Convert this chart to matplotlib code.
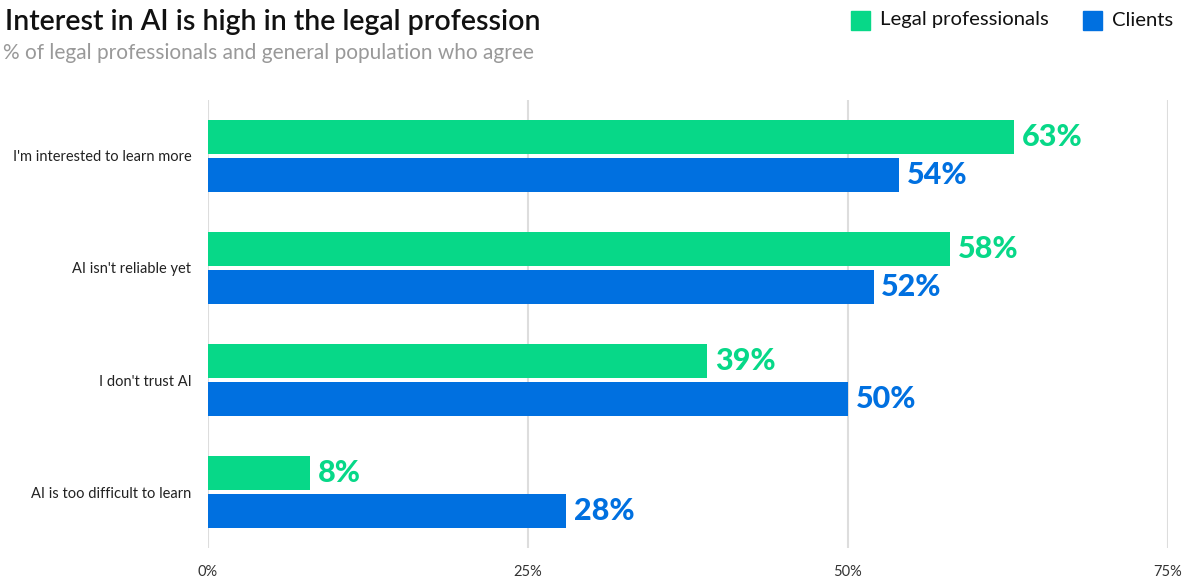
import matplotlib
matplotlib.use("Agg")
import matplotlib.pyplot as plt
import numpy as np
from matplotlib.patches import Rectangle

categories = ["I'm interested to learn more", "AI isn't reliable yet", "I don't trust AI", "AI is too difficult to learn"]
legal = [63, 58, 39, 8]
clients = [54, 52, 50, 28]
series_names = ["Legal professionals", "Clients"]
xticks = [0, 25, 50, 75]
xtick_labels = ["0%", "25%", "50%", "75%"]

GREEN = "#07D888"
BLUE = "#0070E0"
FONT = ["Lato", "DejaVu Sans"]
plt.rcParams['font.family'] = FONT

W, H = 1188, 579
fig = plt.figure(figsize=(W / 100, H / 100), dpi=100)
ax = fig.add_axes([208 / W, 31 / H, (1168 - 208) / W, (548 - 100) / H])

y = np.arange(len(categories))
bh = 0.31
off = 0.17
ax.barh(y - off, legal, height=bh, color=GREEN, zorder=3)
ax.barh(y + off, clients, height=bh, color=BLUE, zorder=3)

for yi, v in zip(y, legal):
    ax.text(v + 0.6, yi - off, f"{v}%", color=GREEN, fontsize=22, fontweight="black",
            va="center", ha="left")
for yi, v in zip(y, clients):
    ax.text(v + 0.6, yi + off, f"{v}%", color=BLUE, fontsize=22, fontweight="black",
            va="center", ha="left")

ax.set_xlim(0, 75)
ax.set_ylim(len(categories) - 0.5, -0.5)
ax.set_xticks(xticks)
ax.set_xticklabels(xtick_labels, fontsize=10.5, color="#333333")
ax.set_yticks(y)
ax.set_yticklabels(categories, fontsize=10.5, color="#222222")
ax.tick_params(axis="both", length=0)
ax.tick_params(axis="x", pad=12)
ax.tick_params(axis="y", pad=12)
for s in ax.spines.values():
    s.set_visible(False)
ax.grid(axis="x", color="#dddddd", linewidth=1.5, zorder=0)
ax.set_axisbelow(True)

fig.text(5 / W, 1 - 22 / H, "Interest in AI is high in the legal profession", fontsize=20.5,
         fontweight="semibold", color="#111111", va="center", ha="left")
fig.text(3 / W, 1 - 53 / H, "% of legal professionals and general population who agree",
         fontsize=15, color="#999999", va="center", ha="left")

# legend
for x0, col, name in [(851, GREEN, series_names[0]), (1083, BLUE, series_names[1])]:
    fig.patches.append(Rectangle((x0 / W, 1 - 30 / H), 19 / W, 19 / H, transform=fig.transFigure,
                                 color=col))
    fig.text((x0 + 29) / W, 1 - 20 / H, name, fontsize=14.6, color="#111111", va="center", ha="left")

fig.savefig("out.png", dpi=100)
